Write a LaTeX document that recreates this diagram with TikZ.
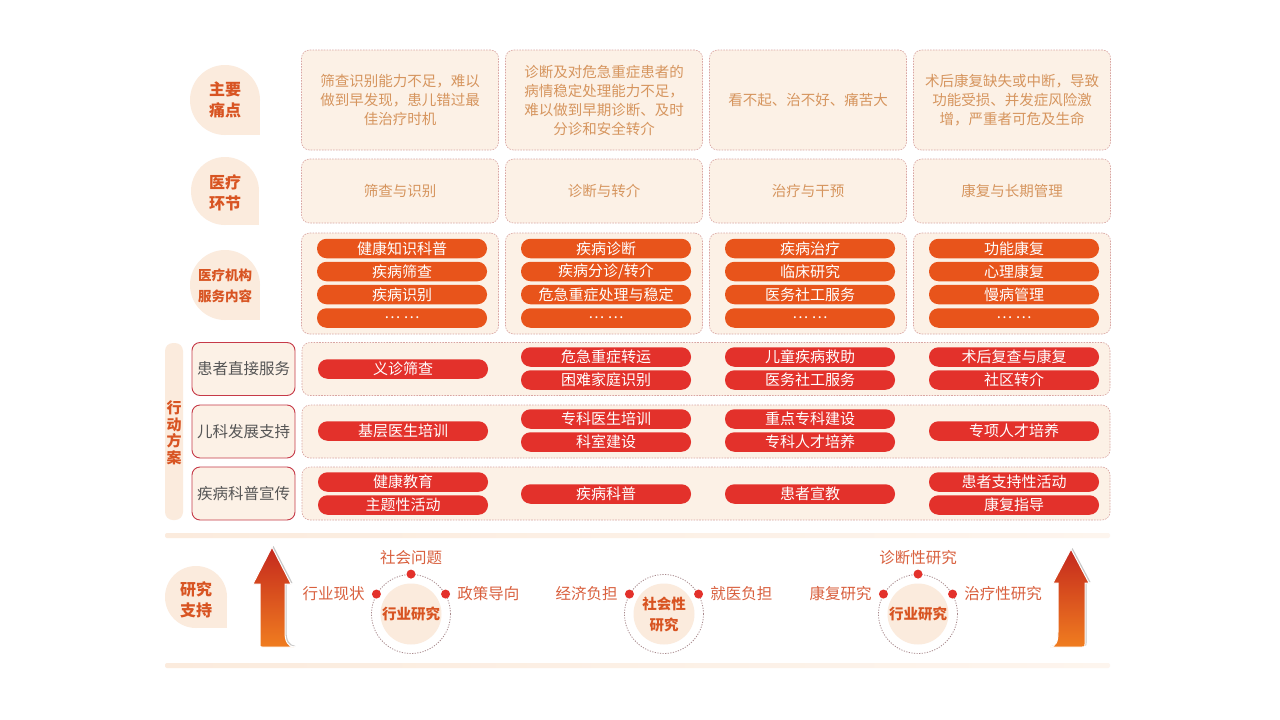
\documentclass[tikz,border=0pt]{standalone}
\usepackage{fontspec}
\setmainfont{Noto Sans CJK SC}
\usepackage{tikz}
\usetikzlibrary{positioning, calc}
\definecolor{PeachFill}{HTML}{FCF1E6}
\definecolor{BubbleFill}{HTML}{FBEBDD}
\definecolor{DashLine}{HTML}{D9A5A2}
\definecolor{PainText}{HTML}{D6955E}
\definecolor{PillOrange}{HTML}{E8541B}
\definecolor{PillRed}{HTML}{E3312B}
\definecolor{LabelRed}{HTML}{C63A48}
\definecolor{LabelGray}{HTML}{555555}
\definecolor{TitleOrange}{HTML}{D85422}
\definecolor{ResText}{HTML}{D9603E}
\definecolor{RingLine}{HTML}{A8898C}
\definecolor{ArrowTop}{HTML}{C4281E}
\definecolor{ArrowBottom}{HTML}{F07D1F}

\begin{document}
\begin{tikzpicture}[x=1pt, y=-1pt,
    dashbox/.style={rectangle, rounded corners=8pt, draw=DashLine, fill=PeachFill, line width=0.6pt,
                    dash pattern=on 1.6pt off 1.2pt, inner sep=0pt},
    pain/.style={dashbox, minimum width=197pt, minimum height=100pt, text=PainText, align=center,
                 font=\fontsize{14.5}{19}\selectfont},
    stage/.style={dashbox, minimum width=197pt, minimum height=64pt, text=PainText,
                  font=\fontsize{14.5}{19}\selectfont},
    svcbox/.style={dashbox, minimum width=197pt, minimum height=101pt},
    actbox/.style={dashbox, minimum width=808pt, minimum height=53pt},
    pill/.style={rectangle, rounded corners=9.5pt, minimum width=170pt, minimum height=19.5pt,
                 inner sep=0pt, text=white, font=\fontsize{15}{15}\selectfont},
    pillO/.style={pill, fill=PillOrange},
    pillR/.style={pill, fill=PillRed},
    rowlab/.style={rectangle, rounded corners=8pt, draw=LabelRed, line width=0.9pt, fill=PeachFill,
                   minimum width=103pt, minimum height=53pt, text=LabelGray, font=\fontsize{15.5}{15.5}\selectfont},
    heading/.style={text=TitleOrange, align=center, font=\bfseries\fontsize{16}{21}\selectfont},
    ring/.style={circle, draw=RingLine, dash pattern=on 1.2pt off 1.4pt, line width=0.8pt,
                 minimum size=79pt, inner sep=0pt},
    core/.style={circle, fill=BubbleFill, minimum size=61pt, inner sep=0pt, text=TitleOrange,
                 align=center, font=\bfseries\fontsize{14.5}{21}\selectfont},
    rdot/.style={circle, fill=PillRed, minimum size=9pt, inner sep=0pt},
    reslab/.style={text=ResText, inner sep=2pt, font=\fontsize{15.5}{15.5}\selectfont},
    bubble/.style={fill=BubbleFill},
    band/.style={left color=BubbleFill, right color=BubbleFill!50, rounded corners=2pt},
    uparrow/.style={top color=ArrowTop, bottom color=ArrowBottom, draw=white, line width=1pt},
    arrowshade/.style={fill=black!22}
]
  \fill[white] (0,0) rectangle (1280,720);
  \useasboundingbox (0,0) rectangle (1280,720);

  % Row title bubbles
  \foreach \bx/\by/\br in {225/100/35, 225/191/34, 225/285/35, 196/597/31}{
    \fill[bubble] (\bx,\by) circle[radius=\br pt];
    \fill[bubble] (\bx,\by) rectangle ++(\br,\br);
  }
  \node[heading] (hPain) at (225,100) {主要\\痛点};
  \node[heading] (hStage) at (225,193) {医疗\\环节};
  \node[heading, font=\bfseries\fontsize{13.5}{21}\selectfont] (hSvc) at (225,286) {医疗机构\\服务内容};
  \node[heading] (hRes) at (196,600) {研究\\支持};

  % Action plan side bar
  \fill[bubble, rounded corners=8pt] (165,343) rectangle (183,520);
  \node[heading, font=\bfseries\fontsize{15}{16.5}\selectfont] (hAct) at (174,433) {行\\动\\方\\案};

  % Main pain points
  \foreach \i/\cx/\txt in {
      1/400/{筛查识别能力不足，难以\\做到早发现，患儿错过最\\佳治疗时机},
      2/604/{诊断及对危急重症患者的\\病情稳定处理能力不足，\\难以做到早期诊断、及时\\分诊和安全转介},
      3/808/{看不起、治不好、痛苦大},
      4/1012/{术后康复缺失或中断，导致\\功能受损、并发症风险激\\增，严重者可危及生命}}{
    \node[pain] (pain\i) at (\cx,100) {\txt};
  }

  % Medical stages
  \foreach \i/\cx/\txt in {1/400/筛查与识别, 2/604/诊断与转介, 3/808/治疗与干预, 4/1012/康复与长期管理}{
    \node[stage] (stage\i) at (\cx,191) {\txt};
  }

  % Service content
  \foreach \i/\cx/\pa/\pb/\pc in {
      1/400/健康知识科普/疾病筛查/疾病识别,
      2/604/疾病诊断/{疾病分诊/转介}/危急重症处理与稳定,
      3/808/疾病治疗/临床研究/医务社工服务,
      4/1012/功能康复/心理康复/慢病管理}{
    \node[svcbox] (svc\i) at (\cx,283.5) {};
    \node[pillO] (svc\i-a) at (\cx+2,248.5) {\pa};
    \node[pillO] (svc\i-b) at (\cx+2,271.5) {\pb};
    \node[pillO] (svc\i-c) at (\cx+2,294.5) {\pc};
    \node[pillO] (svc\i-d) at (\cx+2,318) {… …};
  }

  % Action plan rows
  \foreach \j/\cy/\lab in {1/369/患者直接服务, 2/431.5/儿科发展支持, 3/493.5/疾病科普宣传}{
    \node[rowlab] (lab\j) at (243.5,\cy) {\lab};
    \node[actbox] (act\j) at (706,\cy) {};
  }
  \foreach \n/\cx/\cy/\txt in {
      a1/403/369/义诊筛查, a2/606/357/危急重症转运, a3/606/380/困难家庭识别,
      a4/810/357/儿童疾病救助, a5/810/380/医务社工服务, a6/1014/357/术后复查与康复, a7/1014/380/社区转介,
      b1/403/431/基层医生培训, b2/606/419/专科医生培训, b3/606/442/科室建设,
      b4/810/419/重点专科建设, b5/810/442/专科人才培养, b6/1014/431/专项人才培养,
      c1/403/482/健康教育, c2/403/505/主题性活动, c3/606/494/疾病科普,
      c4/810/494/患者宣教, c5/1014/482/患者支持性活动, c6/1014/505/康复指导}{
    \node[pillR] (\n) at (\cx,\cy) {\txt};
  }

  % Research support band
  \shade[band] (165,533) rectangle (1110,538);
  \shade[band] (165,663) rectangle (1110,668);

  % Up arrows
  \fill[arrowshade, xshift=1.5pt, yshift=1pt] (272,547) -- (291,584) -- (285,584) -- (285,632)
    .. controls (285,642) and (288,646) .. (294,647) -- (262,647) .. controls (260,647) .. (260,644)
    -- (260,584) -- (253,584) -- cycle;
  \path[uparrow] (272,547) -- (291,584) -- (285,584) -- (285,632)
    .. controls (285,642) and (288,646) .. (294,647) -- (262,647) .. controls (260,647) .. (260,644)
    -- (260,584) -- (253,584) -- cycle;
  \fill[arrowshade, xshift=1.5pt, yshift=1pt] (1071,549) -- (1089,583) -- (1085,583) -- (1085,644)
    .. controls (1085,647) .. (1082,647) -- (1050,647) .. controls (1056,646) and (1058,642) .. (1058,632)
    -- (1058,583) -- (1053,583) -- cycle;
  \path[uparrow] (1071,549) -- (1089,583) -- (1085,583) -- (1085,644)
    .. controls (1085,647) .. (1082,647) -- (1050,647) .. controls (1056,646) and (1058,642) .. (1058,632)
    -- (1058,583) -- (1053,583) -- cycle;

  % Industry research (left)
  \node[ring] (ringA) at (411,614) {};
  \node[core] (coreA) at (ringA) {行业研究};
  \node[rdot] (dotAt) at (ringA.90) {};
  \node[rdot] (dotAl) at (ringA.150) {};
  \node[rdot] (dotAr) at (ringA.30) {};
  \node[reslab, above=2pt of dotAt] (labAt) {社会问题};
  \node[reslab, left=5pt of dotAl] (labAl) {行业现状};
  \node[reslab, right=5pt of dotAr] (labAr) {政策导向};

  % Social research (middle)
  \node[ring] (ringB) at (664,614) {};
  \node[core] (coreB) at (ringB) {社会性\\研究};
  \node[rdot] (dotBl) at (ringB.150) {};
  \node[rdot] (dotBr) at (ringB.30) {};
  \node[reslab, left=5pt of dotBl] (labBl) {经济负担};
  \node[reslab, right=5pt of dotBr] (labBr) {就医负担};

  % Industry research (right)
  \node[ring] (ringC) at (918,614) {};
  \node[core] (coreC) at (ringC) {行业研究};
  \node[rdot] (dotCt) at (ringC.90) {};
  \node[rdot] (dotCl) at (ringC.150) {};
  \node[rdot] (dotCr) at (ringC.30) {};
  \node[reslab, above=2pt of dotCt] (labCt) {诊断性研究};
  \node[reslab, left=5pt of dotCl] (labCl) {康复研究};
  \node[reslab, right=5pt of dotCr] (labCr) {治疗性研究};
\end{tikzpicture}
\end{document}
